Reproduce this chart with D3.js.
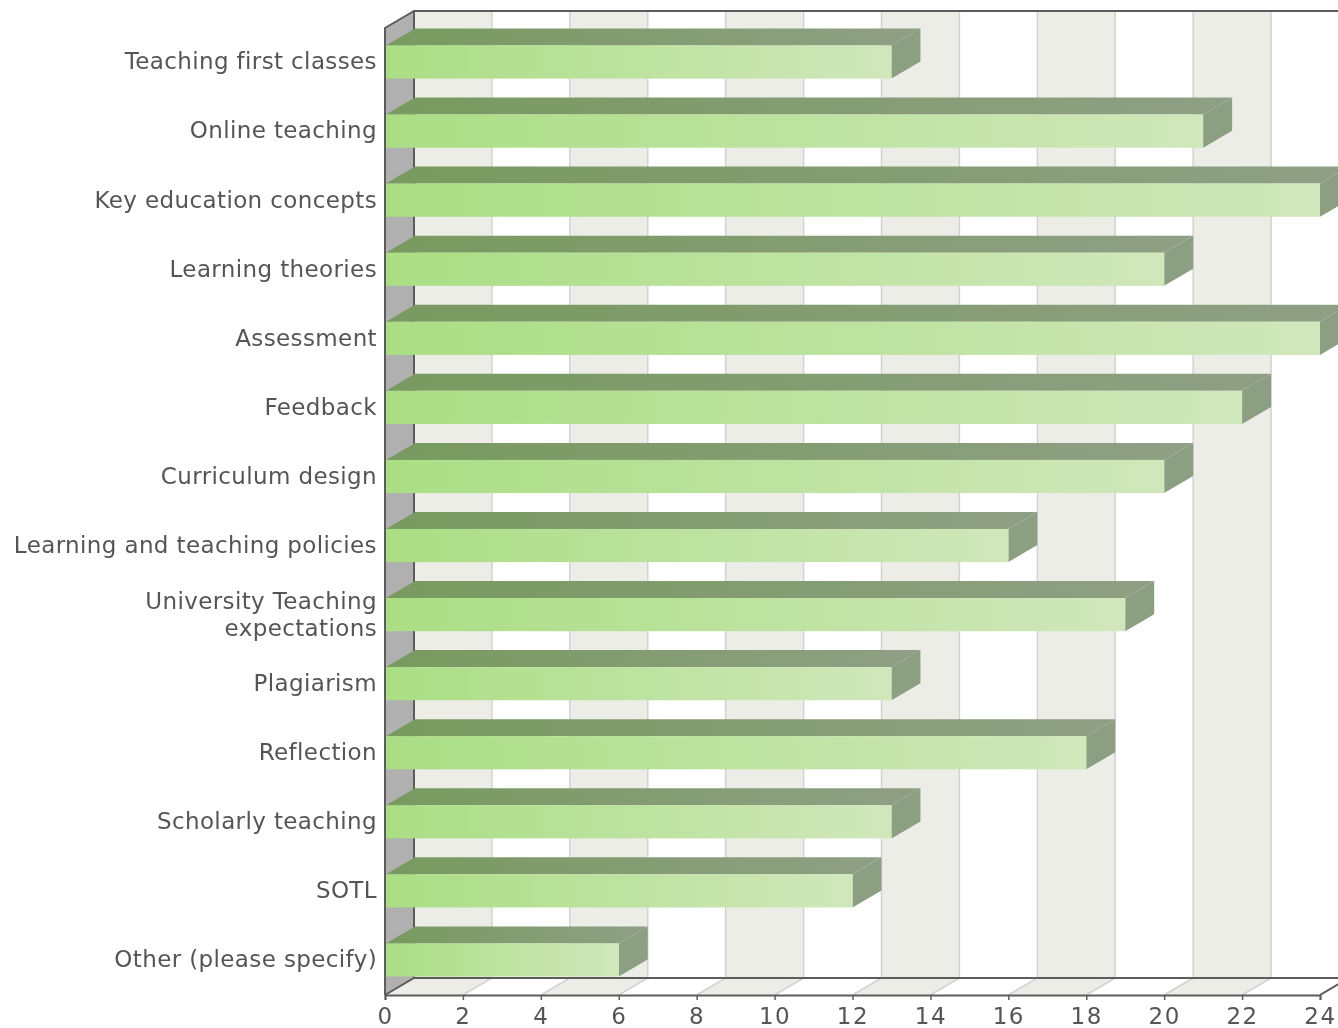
<!DOCTYPE html>
<html>
<head>
<meta charset="utf-8">
<script src="https://d3js.org/d3.v7.min.js"></script>
<style>
  html, body { margin: 0; padding: 0; background: #fff; overflow: hidden; }
  svg { display: block; filter: blur(0.6px); }
  text { font-family: "DejaVu Sans", sans-serif; fill: #555; letter-spacing: 0.38px; }
  .x-axis text { letter-spacing: 1.5px; }
</style>
</head>
<body>
<script>
var categories = ["Teaching first classes", "Online teaching", "Key education concepts",
  "Learning theories", "Assessment", "Feedback", "Curriculum design",
  "Learning and teaching policies", "University Teaching\nexpectations", "Plagiarism",
  "Reflection", "Scholarly teaching", "SOTL", "Other (please specify)"];
var values = [13, 21, 24, 20, 24, 22, 20, 16, 19, 13, 18, 13, 12, 6];
var xTicks = [0, 2, 4, 6, 8, 10, 12, 14, 16, 18, 20, 22, 24];

var width = 1338, height = 1028;
var depthX = 29, depthY = 17;   // offset of the back wall
var plotTop = 28, plotBottom = 995;

var svg = d3.select("body").append("svg")
  .attr("width", width)
  .attr("height", height);

var defs = svg.append("defs");
function gradient(id, from, to) {
  var g = defs.append("linearGradient").attr("id", id);
  g.append("stop").attr("offset", "0%").attr("stop-color", from);
  g.append("stop").attr("offset", "100%").attr("stop-color", to);
}
gradient("front", "#aade84", "#d0e7bb");
gradient("roof", "#789a5f", "#8f9f85");

var x = d3.scaleLinear().domain([0, 24]).range([385, 1320]);
var y = d3.scaleBand().domain(categories).range([27.5, 994.5]).paddingInner(0.52).paddingOuter(0.26);

function poly(points) {
  return points.map(function(p) { return p.join(","); }).join(" ");
}

// left wall
svg.append("polygon")
  .attr("points", poly([[x(0), plotTop], [x(0) + depthX, plotTop - depthY], [x(0) + depthX, plotBottom - depthY], [x(0), plotBottom]]))
  .attr("fill", "#b0b0b0");

// alternating bands on the back wall and floor
var bands = d3.pairs(xTicks).filter(function(d, i) { return i % 2 === 0; });
svg.append("g").selectAll("polygon").data(bands).join("polygon")
  .attr("points", function(d) {
    return poly([[x(d[0]) + depthX, plotTop - depthY], [x(d[1]) + depthX, plotTop - depthY],
      [x(d[1]) + depthX, plotBottom - depthY], [x(d[1]), plotBottom], [x(d[0]), plotBottom], [x(d[0]) + depthX, plotBottom - depthY]]);
  })
  .attr("fill", "#ecede7");

// grid lines
svg.append("g").selectAll("polyline").data(xTicks.slice(1)).join("polyline")
  .attr("points", function(d) {
    return poly([[x(d) + depthX, plotTop - depthY], [x(d) + depthX, plotBottom - depthY], [x(d), plotBottom]]);
  })
  .attr("fill", "none")
  .attr("stroke", "#d2d2d2")
  .attr("stroke-width", 1.5);

// frame
var frame = svg.append("g").attr("fill", "none").attr("stroke", "#5c5c5c").attr("stroke-width", 2);
frame.append("polyline")
  .attr("points", poly([[x(0), plotBottom], [x(0), plotTop], [x(0) + depthX, plotTop - depthY], [width + 12, plotTop - depthY]]));
frame.append("polyline")
  .attr("points", poly([[x(0), plotBottom], [x(0) + depthX, plotBottom - depthY], [width + 12, plotBottom - depthY]]));
frame.append("line")
  .attr("x1", x(0) + depthX).attr("x2", x(0) + depthX)
  .attr("y1", plotTop - depthY).attr("y2", plotBottom - depthY);
frame.append("line")
  .attr("x1", x(24)).attr("x2", x(24) + depthX)
  .attr("y1", plotBottom).attr("y2", plotBottom - depthY);

// bars
var bars = svg.append("g").selectAll("g")
  .data(categories.map(function(c, i) { return { name: c, value: values[i] }; }))
  .join("g");

bars.append("polygon")
  .attr("points", function(d) {
    var x0 = x(0) + 1, x1 = x(d.value), y0 = y(d.name);
    return poly([[x0, y0], [x0 + depthX, y0 - depthY], [x1 + depthX, y0 - depthY], [x1, y0]]);
  })
  .attr("fill", "url(#roof)");

bars.append("polygon")
  .attr("points", function(d) {
    var x1 = x(d.value), y0 = y(d.name), h = y.bandwidth();
    return poly([[x1, y0], [x1 + depthX, y0 - depthY], [x1 + depthX, y0 + h - depthY], [x1, y0 + h]]);
  })
  .attr("fill", "#8c9f82");

bars.append("rect")
  .attr("x", x(0) + 1)
  .attr("y", function(d) { return y(d.name); })
  .attr("width", function(d) { return x(d.value) - x(0) - 1; })
  .attr("height", y.bandwidth())
  .attr("fill", "url(#front)");

// axes
var xAxis = svg.append("g")
  .attr("class", "x-axis")
  .attr("transform", "translate(0," + plotBottom + ")")
  .call(d3.axisBottom(x).tickValues(xTicks).tickSize(5).tickPadding(8));
xAxis.attr("font-family", null);
xAxis.selectAll("text").attr("font-size", 23);
xAxis.select(".domain").attr("stroke", "#5c5c5c").attr("stroke-width", 2);
xAxis.selectAll(".tick line").attr("stroke", "#5c5c5c").attr("stroke-width", 1.5);

var yAxis = svg.append("g")
  .attr("transform", "translate(" + (x(0) - 8) + ",0)")
  .call(d3.axisLeft(y).tickSize(0).tickPadding(0));
yAxis.attr("font-family", null);
yAxis.select(".domain").remove();
yAxis.selectAll("text")
  .attr("font-size", 23)
  .each(function(d) {
    var lines = d.split("\n");
    if (lines.length < 2) return;
    var t = d3.select(this).text(null);
    lines.forEach(function(line, i) {
      t.append("tspan")
        .attr("x", 0)
        .attr("dy", i === 0 ? "-0.24em" : "1.15em")
        .text(line);
    });
  });
</script>
</body>
</html>
